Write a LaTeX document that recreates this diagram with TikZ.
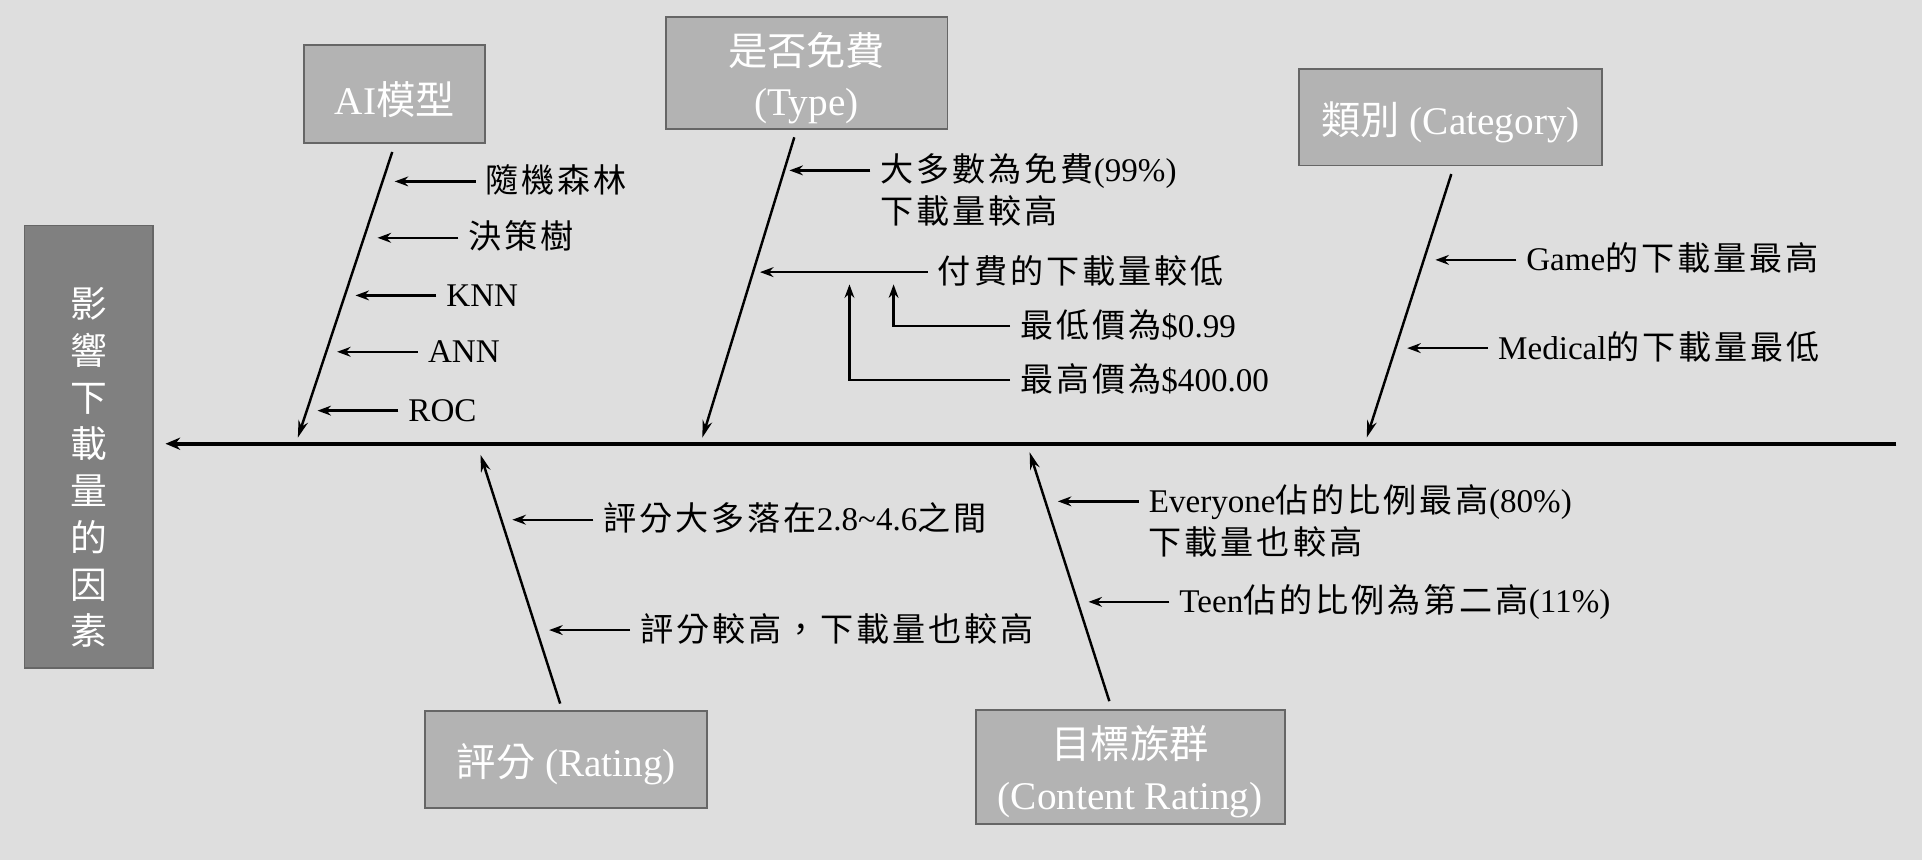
\documentclass[tikz,border=0pt]{standalone}
\usepackage{fontspec}
\setmainfont{Liberation Serif}
\newfontfamily\cjk[LetterSpace=9]{Noto Sans CJK TC}
\newfontfamily\cjkbox{Noto Sans CJK TC}
\newcommand{\zh}[1]{{\cjk #1}}
\newcommand{\zhb}[1]{{\cjkbox #1}}
\usetikzlibrary{arrows.meta}
\usetikzlibrary{calc}
\usetikzlibrary{positioning}

\definecolor{bggray}{HTML}{DEDEDE}
\definecolor{boxfill}{HTML}{B3B3B3}
\definecolor{headfill}{HTML}{808080}
\definecolor{boxline}{HTML}{666666}

\tikzset{
    factorbox/.style={draw=boxline, fill=boxfill, line width=1.5pt, inner sep=0pt},
    boxtext/.style={yshift=-4pt, inner sep=0pt, text=white, align=center, font=\fontsize{32}{41}\selectfont},
    headbox/.style={draw=boxline, fill=headfill, line width=1.5pt, inner sep=0pt, minimum width=105pt, minimum height=361pt},
    headtext/.style={text=white, align=center, inner sep=0pt, font=\cjkbox\fontsize{30}{38.1}\selectfont},
    cause/.style={anchor=west, inner xsep=8pt, inner ysep=0pt, text height=20pt, text depth=2pt, font=\fontsize{27}{34}\selectfont},
    causetwo/.style={anchor=north west, inner xsep=8pt, inner ysep=0pt, align=left, font=\fontsize{27}{34}\selectfont},
    bone/.style={line width=2pt, -{Stealth[length=14pt,width=8pt]}},
    hint/.style={line width=2pt, -{Stealth[length=11pt,width=8pt]}},
    spine/.style={line width=3pt, -{Stealth[length=12pt,width=10pt]}}
}

\begin{document}
\begin{tikzpicture}[x=1pt, y=-1pt]
    % Canvas
    \fill[bggray] (0,0) rectangle (1568,701.6);
    \useasboundingbox (0,0) rectangle (1568,701.6);

    % Head and spine
    \node[headbox] (head) at (72.5,364.5) {};
    \node[headtext] (headtxt) at (72.5,381.5) {影\\響\\下\\載\\量\\的\\因\\素};
    \coordinate (tail) at (1547,362);
    \coordinate (mouth) at (135,362);
    \draw[spine] (tail) -- (mouth);

    % Factor boxes
    \node[factorbox, minimum width=148pt, minimum height=80pt, label={[boxtext]center:AI\zhb{模型}}] (ai) at (322,77) {};
    \node[factorbox, minimum width=230pt, minimum height=91pt, label={[boxtext]center:{\zhb{是否免費}\\(Type)}}] (type) at (658,59.5) {};
    \node[factorbox, minimum width=247pt, minimum height=79pt, label={[boxtext]center:\zhb{類別} (Category)}] (cat) at (1183.5,95.5) {};
    \node[factorbox, minimum width=230pt, minimum height=79pt, label={[boxtext]center:\zhb{評分} (Rating)}] (rating) at (462,619.5) {};
    \node[factorbox, minimum width=252pt, minimum height=93pt, label={[boxtext]center:{\zhb{目標族群}\\(Content Rating)}}] (cr) at (922,625.5) {};

    % Bones
    \coordinate (ai-top) at (320,124);
    \coordinate (ai-foot) at (243,357);
    \coordinate (type-top) at (648,112);
    \coordinate (type-foot) at (573,357);
    \coordinate (cat-top) at (1184,142);
    \coordinate (cat-foot) at (1115,357);
    \coordinate (rating-top) at (457,574);
    \coordinate (rating-foot) at (392,371);
    \coordinate (cr-top) at (905,572);
    \coordinate (cr-foot) at (840,369);
    \draw[bone] (ai-top) -- (ai-foot);
    \draw[bone] (type-top) -- (type-foot);
    \draw[bone] (cat-top) -- (cat-foot);
    \draw[bone] (rating-top) -- (rating-foot);
    \draw[bone] (cr-top) -- (cr-foot);

    % AI model causes
    \node[cause] (rf) at (388,148) {\zh{隨機森林}};
    \node[cause] (dt) at (374,194) {\zh{決策樹}};
    \node[cause] (knn) at (356,241) {KNN};
    \node[cause] (ann) at (341,287) {ANN};
    \node[cause] (roc) at (325,335) {ROC};
    \foreach \c in {rf,dt,knn,ann,roc}
        \draw[hint] (\c.west) -- ++(-66,0);

    % Type causes
    \node[causetwo] (free) at (710,125) {\zh{大多數為免費}(99\%)\\\zh{下載量較高}};
    \draw[hint] ([yshift=-14pt]free.north west) -- ++(-66,0);
    \node[cause] (paid) at (757,222) {\zh{付費的下載量較低}};
    \draw[hint] (paid.west) -- ++(-137,0);
    \node[cause] (minp) at (824,266) {\zh{最低價為}\$0.99};
    \node[cause] (maxp) at (824,310) {\zh{最高價為}\$400.00};
    \draw[hint] (minp.west) -| ($(paid.west)+(-28,10)$);
    \draw[hint] (maxp.west) -| ($(paid.west)+(-64,10)$);

    % Category causes
    \node[cause] (game) at (1237,212) {Game\zh{的下載量最高}};
    \node[cause] (med) at (1214,284) {Medical\zh{的下載量最低}};
    \draw[hint] (game.west) -- ++(-66,0);
    \draw[hint] (med.west) -- ++(-66,0);

    % Rating causes
    \node[cause] (range) at (484,424) {\zh{評分大多落在}2.8\textasciitilde 4.6\zh{之間}};
    \node[cause] (high) at (514,514) {\zh{評分較高，下載量也較高}};
    \draw[hint] (range.west) -- ++(-66,0);
    \draw[hint] (high.west) -- ++(-66,0);

    % Content rating causes
    \node[causetwo] (every) at (929,395) {Everyone\zh{佔的比例最高}(80\%)\\\zh{下載量也較高}};
    \draw[hint] ([yshift=-14pt]every.north west) -- ++(-66,0);
    \node[cause] (teen) at (954,491) {Teen\zh{佔的比例為第二高}(11\%)};
    \draw[hint] (teen.west) -- ++(-66,0);
\end{tikzpicture}
\end{document}
